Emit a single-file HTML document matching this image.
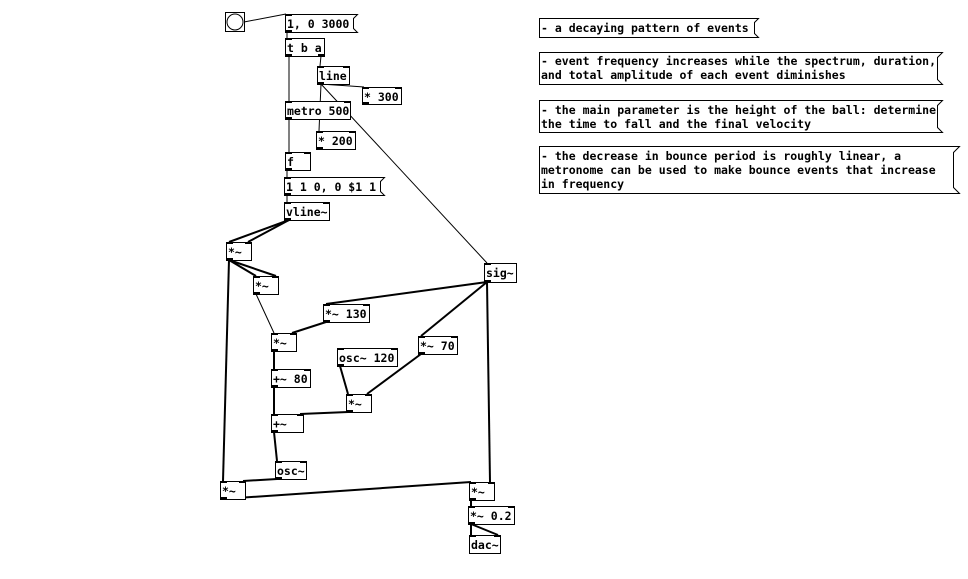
<!DOCTYPE html>
<html><head><meta charset="utf-8"><style>
html,body{margin:0;padding:0;background:#fff;}
svg{display:block}
text{font-family:"DejaVu Sans Mono","Liberation Mono",monospace;font-size:11.5px;font-weight:bold;fill:#000}
.b{fill:#fff;stroke:#000;stroke-width:1}
.c{stroke:#000;stroke-width:1;fill:none}
.s{stroke:#000;stroke-width:2;fill:none}
</style></head><body>
<svg width="968" height="579" viewBox="0 0 968 579" xmlns="http://www.w3.org/2000/svg">
<!-- connections -->
<g>
<line class="c" x1="244" y1="22" x2="286" y2="14"/>
<line class="c" x1="287" y1="32" x2="287" y2="38"/>
<line class="c" x1="289" y1="56" x2="289" y2="101"/>
<line class="c" x1="321" y1="56" x2="320" y2="66"/>
<polyline class="c" points="320,84 350,86 364,87"/>
<line class="c" x1="321" y1="84" x2="319" y2="131"/>
<line class="c" x1="321" y1="84" x2="487" y2="263"/>
<line class="c" x1="289" y1="119" x2="289" y2="152"/>
<line class="c" x1="287" y1="170" x2="287" y2="177"/>
<line class="c" x1="287" y1="195" x2="287" y2="202"/>
<line class="s" x1="289" y1="220" x2="229" y2="242"/>
<line class="s" x1="289" y1="220" x2="248" y2="242"/>
<line class="s" x1="229" y1="260" x2="256" y2="276"/>
<line class="s" x1="229" y1="260" x2="276" y2="276"/>
<line class="s" x1="229" y1="260" x2="223" y2="481"/>
<line class="c" x1="256" y1="294" x2="274" y2="333"/>
<line class="s" x1="487" y1="282" x2="326" y2="304"/>
<line class="s" x1="487" y1="282" x2="421" y2="336"/>
<line class="s" x1="487" y1="282" x2="490" y2="482"/>
<line class="s" x1="326" y1="322" x2="292" y2="333"/>
<line class="s" x1="274" y1="351" x2="274" y2="369"/>
<line class="s" x1="274" y1="387" x2="274" y2="414"/>
<line class="s" x1="340" y1="366" x2="348" y2="394"/>
<line class="s" x1="421" y1="354" x2="367" y2="394"/>
<line class="s" x1="348" y1="412" x2="300" y2="414"/>
<line class="s" x1="274" y1="432" x2="277" y2="461"/>
<line class="s" x1="277" y1="479" x2="243" y2="481"/>
<line class="s" x1="222" y1="499" x2="471" y2="482"/>
<line class="s" x1="471" y1="500" x2="471" y2="506"/>
<line class="s" x1="471" y1="524" x2="471" y2="535"/>
<line class="s" x1="471" y1="524" x2="498" y2="535"/>
</g>

<!-- bang -->
<rect class="b" x="225.5" y="12.5" width="19" height="19"/>
<circle cx="235" cy="22" r="8" fill="none" stroke="#000"/>

<!-- message boxes -->
<path class="b" d="M285.5,14.5 H357.5 L353.5,18.5 V28.5 L357.5,32.5 H285.5 Z"/>
<text x="287" y="28">1, 0 3000</text>
<path class="b" d="M284.5,177.5 H384.5 L380.5,181.5 V191.5 L384.5,195.5 H284.5 Z"/>
<text x="286" y="191">1 1 0, 0 $1 1</text>

<!-- objects -->
<g>
<rect class="b" x="285.5" y="38.5" width="39" height="18"/><text x="287" y="52">t b a</text>
<rect class="b" x="317.5" y="66.5" width="32" height="18"/><text x="319" y="80">line</text>
<rect class="b" x="362.5" y="87.5" width="39" height="17"/><text x="364" y="101">* 300</text>
<rect class="b" x="285.5" y="101.5" width="65" height="18"/><text x="287" y="115">metro 500</text>
<rect class="b" x="316.5" y="131.5" width="39" height="18"/><text x="318" y="145">* 200</text>
<rect class="b" x="285.5" y="152.5" width="25" height="18"/><text x="287" y="166">f</text>
<rect class="b" x="284.5" y="202.5" width="45" height="18"/><text x="286" y="216">vline~</text>
<rect class="b" x="226.5" y="242.5" width="25" height="18"/><text x="228" y="256">*~</text>
<rect class="b" x="253.5" y="276.5" width="25" height="18"/><text x="255" y="290">*~</text>
<rect class="b" x="484.5" y="263.5" width="32" height="19"/><text x="486" y="277">sig~</text>
<rect class="b" x="323.5" y="304.5" width="46" height="18"/><text x="325" y="318">*~ 130</text>
<rect class="b" x="271.5" y="333.5" width="25" height="18"/><text x="273" y="347">*~</text>
<rect class="b" x="418.5" y="336.5" width="39" height="18"/><text x="420" y="350">*~ 70</text>
<rect class="b" x="337.5" y="348.5" width="60" height="18"/><text x="339" y="362">osc~ 120</text>
<rect class="b" x="271.5" y="369.5" width="39" height="18"/><text x="273" y="383">+~ 80</text>
<rect class="b" x="346.5" y="394.5" width="25" height="18"/><text x="348" y="408">*~</text>
<rect class="b" x="271.5" y="414.5" width="32" height="18"/><text x="273" y="428">+~</text>
<rect class="b" x="275.5" y="461.5" width="31" height="18"/><text x="277" y="475">osc~</text>
<rect class="b" x="220.5" y="481.5" width="25" height="18"/><text x="222" y="495">*~</text>
<rect class="b" x="469.5" y="482.5" width="25" height="18"/><text x="471" y="496">*~</text>
<rect class="b" x="468.5" y="506.5" width="46" height="18"/><text x="470" y="520">*~ 0.2</text>
<rect class="b" x="469.5" y="535.5" width="31" height="18"/><text x="471" y="549">dac~</text>
</g>

<!-- inlets/outlets -->
<g fill="#000">
<rect x="285" y="14" width="7" height="2"/><rect x="285" y="30" width="7" height="3"/>
<rect x="285" y="38" width="7" height="2"/><rect x="285" y="54" width="7" height="3"/><rect x="318" y="54" width="7" height="3"/>
<rect x="317" y="66" width="7" height="2"/><rect x="343" y="66" width="7" height="2"/><rect x="317" y="82" width="7" height="3"/>
<rect x="362" y="87" width="7" height="2"/><rect x="395" y="87" width="7" height="2"/><rect x="362" y="102" width="7" height="3"/>
<rect x="285" y="101" width="7" height="2"/><rect x="344" y="101" width="7" height="2"/><rect x="285" y="117" width="7" height="3"/>
<rect x="316" y="131" width="7" height="2"/><rect x="349" y="131" width="7" height="2"/><rect x="316" y="147" width="7" height="3"/>
<rect x="285" y="152" width="7" height="2"/><rect x="304" y="152" width="7" height="2"/><rect x="285" y="168" width="7" height="3"/>
<rect x="284" y="177" width="7" height="2"/><rect x="284" y="193" width="7" height="3"/>
<rect x="284" y="202" width="7" height="2"/><rect x="323" y="202" width="7" height="2"/><rect x="284" y="218" width="7" height="3"/>
<rect x="226" y="242" width="7" height="2"/><rect x="245" y="242" width="7" height="2"/><rect x="226" y="258" width="7" height="3"/>
<rect x="253" y="276" width="7" height="2"/><rect x="272" y="276" width="7" height="2"/><rect x="253" y="292" width="7" height="3"/>
<rect x="484" y="263" width="7" height="2"/><rect x="484" y="280" width="7" height="3"/>
<rect x="323" y="304" width="7" height="2"/><rect x="363" y="304" width="7" height="2"/><rect x="323" y="320" width="7" height="3"/>
<rect x="271" y="333" width="7" height="2"/><rect x="290" y="333" width="7" height="2"/><rect x="271" y="349" width="7" height="3"/>
<rect x="418" y="336" width="7" height="2"/><rect x="451" y="336" width="7" height="2"/><rect x="418" y="352" width="7" height="3"/>
<rect x="337" y="348" width="7" height="2"/><rect x="391" y="348" width="7" height="2"/><rect x="337" y="364" width="7" height="3"/>
<rect x="271" y="369" width="7" height="2"/><rect x="304" y="369" width="7" height="2"/><rect x="271" y="385" width="7" height="3"/>
<rect x="346" y="394" width="7" height="2"/><rect x="365" y="394" width="7" height="2"/><rect x="346" y="410" width="7" height="3"/>
<rect x="271" y="414" width="7" height="2"/><rect x="297" y="414" width="7" height="2"/><rect x="271" y="430" width="7" height="3"/>
<rect x="275" y="461" width="7" height="2"/><rect x="300" y="461" width="7" height="2"/><rect x="275" y="477" width="7" height="3"/>
<rect x="220" y="481" width="7" height="2"/><rect x="239" y="481" width="7" height="2"/><rect x="220" y="497" width="7" height="3"/>
<rect x="469" y="482" width="7" height="2"/><rect x="488" y="482" width="7" height="2"/><rect x="469" y="498" width="7" height="3"/>
<rect x="468" y="506" width="7" height="2"/><rect x="508" y="506" width="7" height="2"/><rect x="468" y="522" width="7" height="3"/>
<rect x="469" y="535" width="7" height="2"/><rect x="494" y="535" width="7" height="2"/>
<rect x="539" y="18" width="3" height="4"/><rect x="539" y="34" width="3" height="4"/>
<rect x="539" y="52" width="3" height="4"/><rect x="539" y="81" width="3" height="4"/>
<rect x="539" y="100" width="3" height="4"/><rect x="539" y="129" width="3" height="4"/>
<rect x="539" y="146" width="3" height="4"/><rect x="539" y="190" width="3" height="4"/>
</g>

<!-- comments -->
<path class="b" d="M539.5,18.5 H758.5 L754.5,22.5 V33.5 L758.5,37.5 H539.5 Z"/>
<text x="541" y="32">- a decaying pattern of events</text>
<path class="b" d="M539.5,52.5 H942.5 L937.5,57.5 V79.5 L942.5,84.5 H539.5 Z"/>
<text x="541" y="65" textLength="395">- event frequency increases while the spectrum, duration,</text>
<text x="541" y="79">and total amplitude of each event diminishes</text>
<path class="b" d="M539.5,100.5 H942.5 L937.5,105.5 V127.5 L942.5,132.5 H539.5 Z"/>
<text x="541" y="114" textLength="395">- the main parameter is the height of the ball: determine</text>
<text x="541" y="128">the time to fall and the final velocity</text>
<path class="b" d="M539.5,146.5 H959.5 L953.5,152.5 V187.5 L959.5,193.5 H539.5 Z"/>
<text x="541" y="160">- the decrease in bounce period is roughly linear, a</text>
<text x="541" y="174">metronome can be used to make bounce events that increase</text>
<text x="541" y="188">in frequency</text>
</svg>
</body></html>
